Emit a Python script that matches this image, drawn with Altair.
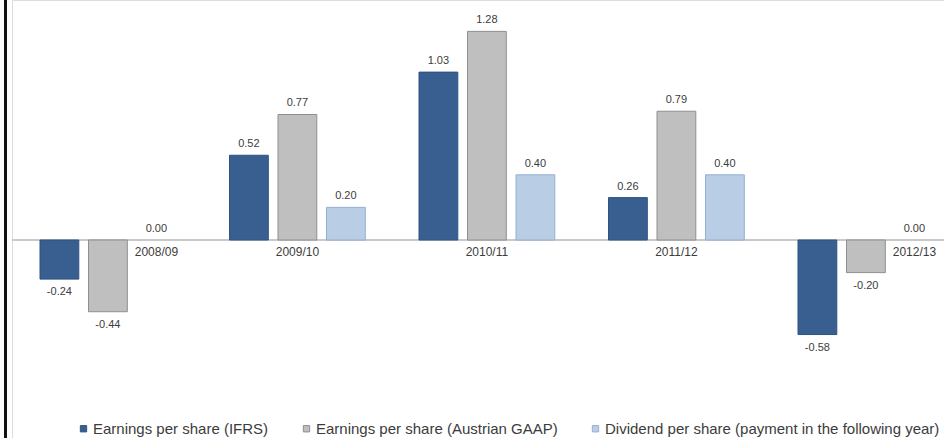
import altair as alt
import pandas as pd

# ---- data ----
years = ["2008/09", "2009/10", "2010/11", "2011/12", "2012/13"]
series = [
    "Earnings per share (IFRS)",
    "Earnings per share (Austrian GAAP)",
    "Dividend per share (payment in the following year)",
]
eps_ifrs = [-0.24, 0.52, 1.03, 0.26, -0.58]
eps_gaap = [-0.44, 0.77, 1.28, 0.79, -0.20]
dividend = [0.00, 0.20, 0.40, 0.40, 0.00]
# which bar of each group the category label sits under
label_anchor = [series[2], series[1], series[1], series[1], series[2]]

fills = ["#385f8f", "#bfbfbf", "#b9cde5"]
strokes = ["#2f5382", "#8f8f8f", "#93afd2"]

rows = []
for name, vals in zip(series, [eps_ifrs, eps_gaap, dividend]):
    for y, v in zip(years, vals):
        rows.append({"year": y, "series": name, "value": v, "label": f"{v:.2f}"})
df = pd.DataFrame(rows)
cat_df = pd.DataFrame({"year": years, "series": label_anchor, "value": [0.0] * len(years)})

x_enc = alt.X("year:N", sort=years, axis=None,
              scale=alt.Scale(paddingInner=0.2834, paddingOuter=0.1008, align=0.733))
y_scale = alt.Scale(domain=[-1.2147, 1.4724], nice=False, zero=False)
y_enc = alt.Y("value:Q", scale=y_scale, axis=None)
off_enc = alt.XOffset("series:N", scale=alt.Scale(domain=series, paddingInner=0.2, paddingOuter=0))
txt_color = "#3c3c3c"
font = "Liberation Sans"

base = alt.Chart(df)

zero_rule = alt.Chart(cat_df).mark_rule(color="#c9c9c9", strokeWidth=1.5).encode(y=y_enc)

bars = base.mark_bar(strokeWidth=1).encode(
    x=x_enc,
    xOffset=off_enc,
    y=y_enc,
    color=alt.Color(
        "series:N",
        scale=alt.Scale(domain=series, range=fills),
        legend=alt.Legend(
            orient="none", legendX=64, legendY=421, direction="horizontal", title=None,
            symbolType="square", symbolSize=40, symbolStrokeWidth=1,
            labelFontSize=15, labelFont=font, labelColor=txt_color, labelOffset=2,
            labelLimit=0, columnPadding=30, padding=0,
        ),
    ),
    stroke=alt.Stroke("series:N", scale=alt.Scale(domain=series, range=strokes), legend=None),
).transform_filter("datum.value != 0")

pos_labels = base.mark_text(dy=-11, baseline="middle", fontSize=11, font=font, color=txt_color).encode(
    x=x_enc, xOffset=off_enc, y=y_enc, text="label:N",
).transform_filter("datum.value >= 0")

neg_labels = base.mark_text(dy=13, baseline="middle", fontSize=11, font=font, color=txt_color).encode(
    x=x_enc, xOffset=off_enc, y=y_enc, text="label:N",
).transform_filter("datum.value < 0")

cat_labels = alt.Chart(cat_df).mark_text(dy=12, baseline="middle", fontSize=12, font=font, color=txt_color).encode(
    x=x_enc, xOffset=off_enc, y=y_enc,
    text="year:N",
)

border = alt.Chart(cat_df).mark_rule(color="#111111", strokeWidth=3).encode(
    x=alt.value(-6.5), y=alt.value(0), y2=alt.value(438)
)

chart = (
    alt.layer(zero_rule, bars, pos_labels, neg_labels, cat_labels, border)
    .properties(
        width=932, height=438,
        padding={"left": 12, "top": 0, "right": 0, "bottom": 0},
        autosize=alt.AutoSizeParams(type="none"),
        background="white",
    )
    .configure_view(stroke=None)
    .configure(font=font)
)

chart.save("out.html", embed_options={"renderer": "svg", "actions": False})
